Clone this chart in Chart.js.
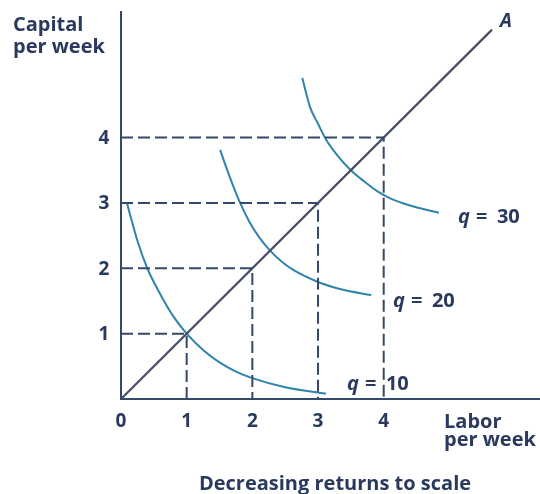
<!DOCTYPE html>
<html>
<head>
<meta charset="utf-8">
<title>Decreasing returns to scale</title>
<script src="https://cdn.jsdelivr.net/npm/chart.js@4/dist/chart.umd.min.js"></script>
<style>
  html, body { margin: 0; padding: 0; background: #fff; }
  #wrap { width: 540px; height: 494px; }
</style>
</head>
<body>
<div id="wrap"><canvas id="chart" width="540" height="494"></canvas></div>
<script>
// tick labels on the two axes
const laborTicks = [0, 1, 2, 3, 4];
const capitalTicks = [1, 2, 3, 4];

// dashed guide levels (k units of labor and k units of capital)
const guideLevels = [1, 2, 3, 4];

// ray A from the origin
const rayA = [[0, 0], [5.65, 5.65]];

// isoquants: [labor, capital]
const q10 = [[0.09, 3.0], [0.25, 2.42], [0.4, 2.0], [0.6, 1.6], [0.8, 1.26], [1.0, 1.0],
             [1.25, 0.75], [1.5, 0.56], [1.75, 0.42], [2.0, 0.32], [2.5, 0.18], [3.12, 0.08]];
const q20 = [[1.51, 3.81], [1.6, 3.55], [1.7, 3.28], [1.8, 3.03], [1.95, 2.72], [2.1, 2.48],
             [2.27, 2.27], [2.45, 2.1], [2.63, 1.97], [3.0, 1.79], [3.38, 1.67], [3.81, 1.59]];
const q30 = [[2.76, 4.91], [2.88, 4.46], [3.0, 4.21], [3.11, 3.99], [3.3, 3.72], [3.5, 3.5],
             [3.7, 3.33], [3.9, 3.18], [4.1, 3.07], [4.4, 2.96], [4.84, 2.85]];

const curveLabels = ['10', '20', '30'];

const INK = '#2a3a5e';
const AXIS = '#34496a';
const CURVE = '#2f84ab';
const RAY = '#474d62';
const FONT = '"Open Sans", "DejaVu Sans", sans-serif';

const pts = arr => arr.map(p => ({ x: p[0], y: p[1] }));

const datasets = [];
guideLevels.forEach(k => {
    datasets.push({
        data: [{ x: 0, y: k }, { x: k, y: k }, { x: k, y: 0 }],
        borderColor: AXIS,
        borderWidth: 2,
        borderDash: [12, 5],
        pointRadius: 0,
        tension: 0
    });
});
datasets.push({
    data: pts(rayA),
    borderColor: RAY,
    borderWidth: 2.2,
    pointRadius: 0
});
[q10, q20, q30].forEach(q => {
    datasets.push({
        data: pts(q),
        borderColor: CURVE,
        borderWidth: 2,
        pointRadius: 0,
        cubicInterpolationMode: 'monotone'
    });
});

// all the text is drawn here, placed through the scales
const textPlugin = {
    id: 'textLabels',
    afterDraw(chart) {
        const { ctx, chartArea } = chart;
        const x = chart.scales.x, y = chart.scales.y;
        ctx.save();
        ctx.fillStyle = INK;

        // tick labels
        ctx.font = '700 19px ' + FONT;
        ctx.textAlign = 'center';
        ctx.textBaseline = 'alphabetic';
        laborTicks.forEach(t => ctx.fillText(String(t), x.getPixelForValue(t), chartArea.bottom + 28));
        capitalTicks.forEach(t => ctx.fillText(String(t), chartArea.left - 17, y.getPixelForValue(t) + 6.5));

        // axis titles
        ctx.font = '700 20px ' + FONT;
        ctx.textAlign = 'left';
        ctx.fillText('Capital', 13, 31);
        ctx.fillText('per week', 13, 53);
        ctx.fillText('Labor', 444, 428);
        ctx.fillText('per week', 444, 446);

        // caption
        ctx.textAlign = 'center';
        ctx.fillText('Decreasing returns to scale', 335, 490);

        // ray label
        ctx.textAlign = 'left';
        ctx.font = 'italic 700 19px ' + FONT;
        ctx.fillText('A', x.getPixelForValue(5.77), y.getPixelForValue(5.69));

        // isoquant labels
        const spots = [[3.44, 0.14], [4.14, 1.41], [5.13, 2.69]];
        spots.forEach((s, i) => {
            const px = x.getPixelForValue(s[0]);
            const py = y.getPixelForValue(s[1]);
            ctx.font = 'italic 700 20px ' + FONT;
            ctx.fillText('q', px, py);
            ctx.font = '700 20px ' + FONT;
            ctx.fillText('=', px + 18, py);
            ctx.fillText(curveLabels[i], px + 39, py);
        });
        ctx.restore();
    }
};

new Chart(document.getElementById('chart'), {
    type: 'line',
    data: { datasets: datasets },
    options: {
        responsive: false,
        animation: false,
        layout: { padding: { left: 121, top: 12, right: 0, bottom: 95 } },
        plugins: {
            legend: { display: false },
            tooltip: { enabled: false }
        },
        scales: {
            x: {
                type: 'linear',
                min: 0,
                max: 6.38,
                grid: { display: false, drawTicks: false },
                ticks: { display: false },
                border: { display: true, color: AXIS, width: 2 }
            },
            y: {
                type: 'linear',
                min: 0,
                max: 5.92,
                grid: { display: false, drawTicks: false },
                ticks: { display: false },
                border: { display: true, color: AXIS, width: 2 }
            }
        }
    },
    plugins: [textPlugin]
});
</script>
</body>
</html>
